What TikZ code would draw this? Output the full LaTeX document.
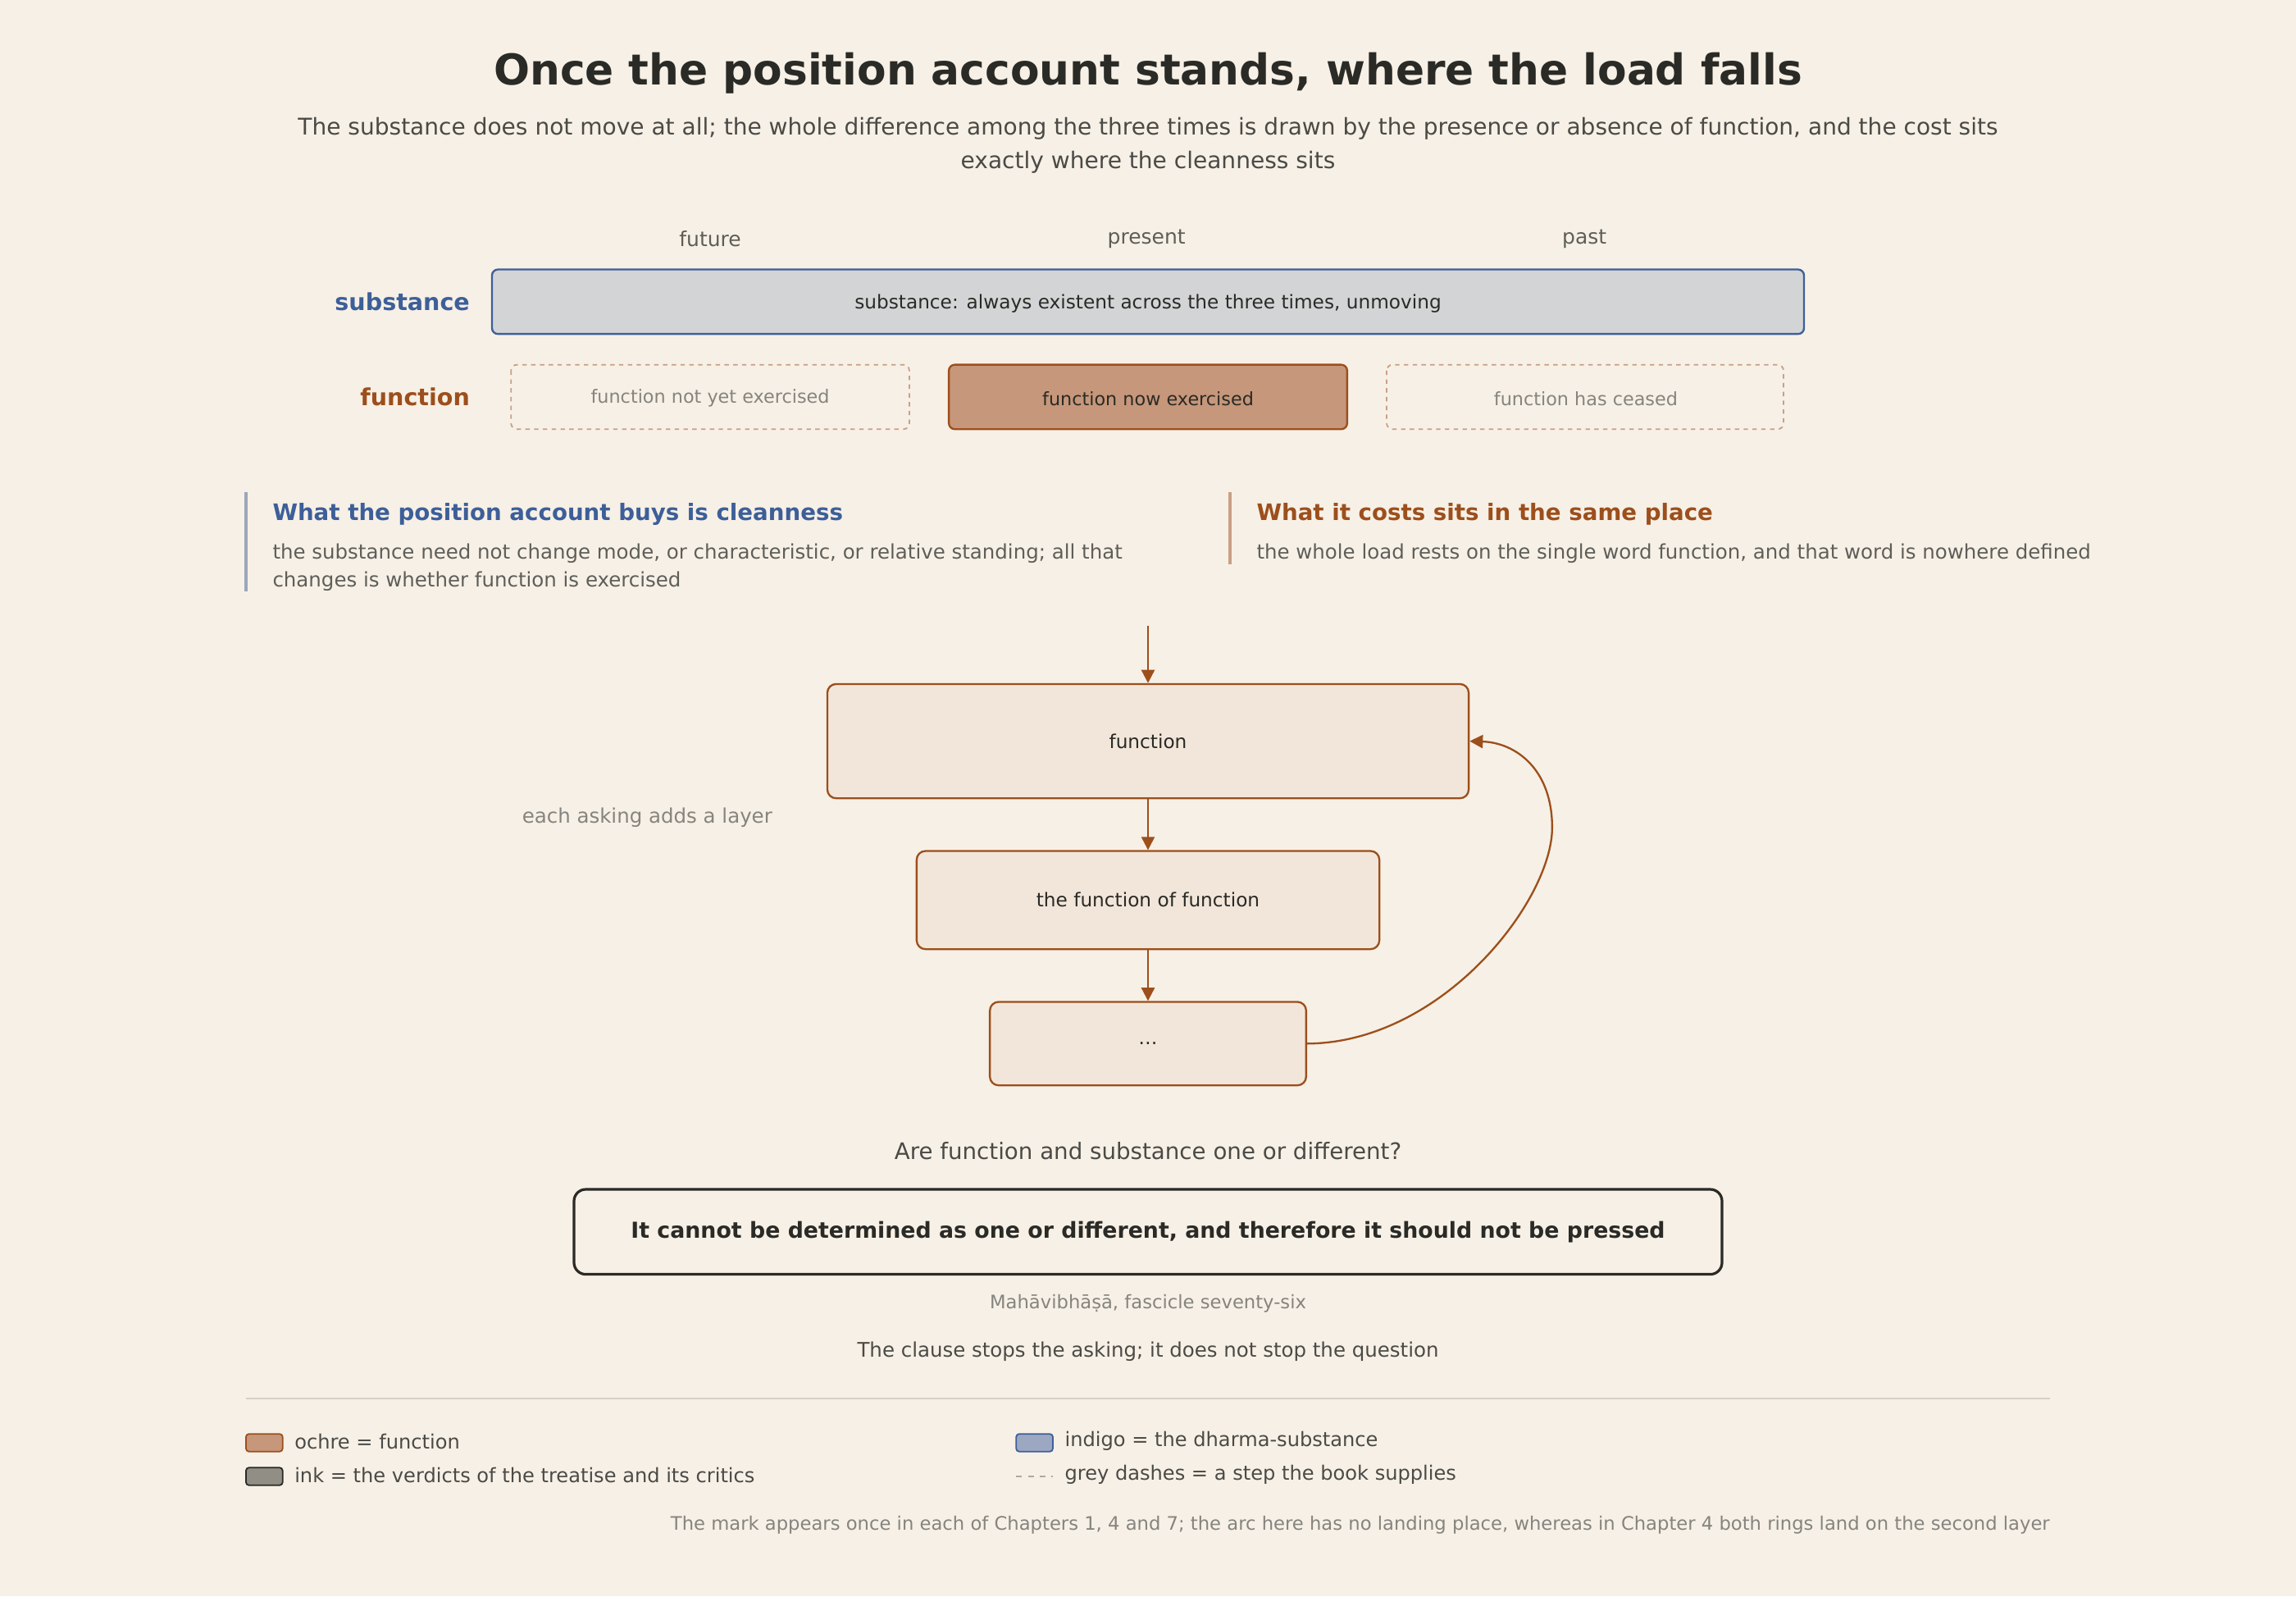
\documentclass[tikz,border=0pt]{standalone}
\usepackage{fontspec}
\setmainfont{DejaVu Sans}
\usetikzlibrary{arrows.meta}
\definecolor{bg}{HTML}{F7F0E6}
\definecolor{ink}{HTML}{2A2A26}
\definecolor{txt}{HTML}{4A4A46}
\definecolor{mut}{HTML}{5E5E59}
\definecolor{lgt}{HTML}{85847E}
\definecolor{indigo}{HTML}{3D5F99}
\definecolor{ochre}{HTML}{9C4F1C}
\definecolor{ochrefill}{HTML}{C6977A}
\definecolor{dashc}{HTML}{C9A085}
\definecolor{pale}{HTML}{F2E6DA}
\definecolor{subfill}{HTML}{D3D4D6}
\definecolor{barind}{HTML}{9AA6BB}
\definecolor{rulec}{HTML}{D8D0C4}
\definecolor{inkfill}{HTML}{918E86}
\definecolor{indfill}{HTML}{9CA8C2}
\begin{document}
\begin{tikzpicture}[x=1pt,y=-1pt,
  fs/.style={font=\fontsize{#1}{#1}\selectfont},
  bfs/.style={font=\fontsize{#1}{#1}\selectfont\bfseries},
  lbl/.style={inner sep=0,anchor=center},
  chain/.style={draw=ochre,fill=pale,line width=1.3pt,rounded corners=6pt,text=ink,fs=13},
  arr/.style={draw=ochre,line width=1.3pt,-{Triangle[length=9pt,width=9pt]}},
  dbox/.style={draw=dashc,dashed,line width=1pt,rounded corners=4pt},
  sw/.style={line width=1pt,rounded corners=2pt}]
\fill[bg] (0,0) rectangle (1568,1090);
\useasboundingbox (0,0) rectangle (1568,1090);
\node[lbl,bfs=29,text=ink] (title) at (784,50) {Once the position account stands, where the load falls};
\node[lbl,fs=15.7,text=txt] (sub1) at (784,88) {The substance does not move at all; the whole difference among the three times is drawn by the presence or absence of function, and the cost sits};
\node[lbl,fs=15.7,text=txt] (sub2) at (784,111) {exactly where the cleanness sits};
\node[lbl,fs=14,text=mut] (fut) at (485,163) {future};
\node[lbl,fs=14,text=mut] (pres) at (783,163) {present};
\node[lbl,fs=14,text=mut] (past) at (1082,163) {past};
\node[anchor=east,inner sep=0,bfs=16,text=indigo] (sl) at (321,206) {substance};
\node[anchor=east,inner sep=0,bfs=16,text=ochre] (fl) at (321,271) {function};
\draw[indigo,fill=subfill,line width=1.3pt,rounded corners=4pt] (336,184) rectangle (1232,228);
\node[lbl,fs=13,text=ink] (sb) at (784,207) {substance: always existent across the three times, unmoving};
\draw[dbox] (349,249) rectangle (621,293);
\node[lbl,fs=12.5,text=lgt] (f1) at (485,272) {function not yet exercised};
\draw[ochre,fill=ochrefill,line width=1.3pt,rounded corners=4pt] (648,249) rectangle (920,293);
\node[lbl,fs=12.5,text=ink] (f2) at (784,272) {function now exercised};
\draw[dbox] (947,249) rectangle (1218,293);
\node[lbl,fs=12.5,text=lgt] (f3) at (1083,272) {function has ceased};
% notes
\draw[barind,line width=2.5pt] (168,336) -- (168,404);
\node[anchor=west,inner sep=0,bfs=15.5,text=indigo] (h1) at (186,351) {What the position account buys is cleanness};
\node[anchor=west,inner sep=0,fs=13.7,text=mut] (t1a) at (186,378) {the substance need not change mode, or characteristic, or relative standing; all that};
\node[anchor=west,inner sep=0,fs=13.7,text=mut] (t1b) at (186,397) {changes is whether function is exercised};
\draw[dashc,line width=2.5pt] (840,336) -- (840,385);
\node[anchor=west,inner sep=0,bfs=15.5,text=ochre] (h2) at (858,351) {What it costs sits in the same place};
\node[anchor=west,inner sep=0,fs=13.7,text=mut] (t2) at (858,378) {the whole load rests on the single word function, and that word is nowhere defined};
% chain
\coordinate (top) at (784,427);
\node[chain,minimum width=438pt,minimum height=78pt] (b1) at (784,506) {function};
\node[chain,minimum width=316pt,minimum height=67pt] (b2) at (784,614.5) {the function of function};
\node[chain,minimum width=216pt,minimum height=57pt] (b3) at (784,712.5) {\dots};
\draw[arr] (top) -- (b1.north);
\draw[arr] (b1.south) -- (b2.north);
\draw[arr] (b2.south) -- (b3.north);
\draw[arr] (b3.east) .. controls (985,712) and (1060,615) .. (1060,565) .. controls (1060,525) and (1035,507) .. (b1.east);
\node[lbl,fs=13.7,text=lgt] (ask) at (442,558) {each asking adds a layer};
\node[lbl,fs=15.5,text=txt] (q) at (784,786) {Are function and substance one or different?};
\node[draw=ink,line width=1.8pt,rounded corners=8pt,minimum width=784pt,minimum height=58pt,bfs=15,text=ink] (v) at (784,841) {It cannot be determined as one or different, and therefore it should not be pressed};
\node[lbl,fs=12.7,text=lgt] (src) at (784,890) {Mahāvibhāṣā, fascicle seventy-six};
\node[lbl,fs=13.7,text=txt] (cl) at (784,923) {The clause stops the asking; it does not stop the question};
\draw[rulec,line width=1pt] (168,955) -- (1400,955);
\draw[sw,draw=ochre,fill=ochrefill] (168,979) rectangle (193,991);
\node[anchor=west,inner sep=0,fs=13.5,text=txt] (l1) at (201,984) {ochre = function};
\draw[sw,draw=ink,fill=inkfill] (168,1002) rectangle (193,1014);
\node[anchor=west,inner sep=0,fs=13.5,text=txt] (l2) at (201,1007) {ink = the verdicts of the treatise and its critics};
\draw[sw,draw=indigo,fill=indfill] (694,979) rectangle (719,991);
\node[anchor=west,inner sep=0,fs=13.5,text=txt] (l3) at (727,984) {indigo = the dharma-substance};
\draw[lgt!70,dash pattern=on 4pt off 4pt,line width=1pt] (694,1008) -- (719,1008);
\node[anchor=west,inner sep=0,fs=13.5,text=txt] (l4) at (727,1007) {grey dashes = a step the book supplies};
\node[anchor=east,inner sep=0,fs=12.7,text=lgt] (fn) at (1400,1041) {The mark appears once in each of Chapters 1, 4 and 7; the arc here has no landing place, whereas in Chapter 4 both rings land on the second layer};
\end{tikzpicture}
\end{document}
